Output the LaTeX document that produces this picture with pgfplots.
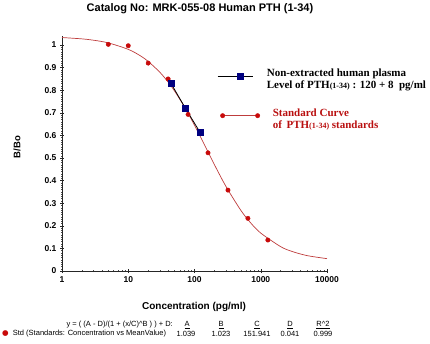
\documentclass[border=0pt]{standalone}
\usepackage{pgfplots}
\pgfplotsset{compat=1.18}
\usepackage{fontspec}
\setmainfont{Liberation Sans}
\newfontfamily\seriff{Liberation Serif}
\newfontfamily\dejavu{DejaVu Sans}
\definecolor{curvecol}{RGB}{190,60,60}
\definecolor{ptred}{RGB}{200,10,10}
\definecolor{navy}{RGB}{0,0,128}
\definecolor{legred}{RGB}{185,15,15}
\begin{document}
\begin{tikzpicture}[x=1pt,y=1pt]
\path[use as bounding box] (0,0) rectangle (430,343);
\begin{axis}[
  at={(62pt,72pt)}, anchor=south west,
  scale only axis, width=265pt, height=235pt,
  xmode=log, xmin=1, xmax=10000, ymin=0, ymax=1.04,
  axis lines*=left,
  axis line style={black!85, line width=0.6pt},
  xtick={1,10,100,1000,10000},
  xticklabels={1,10,100,1000,10000},
  ytick={0,0.1,0.2,0.3,0.4,0.5,0.6,0.7,0.8,0.9,1},
  yticklabels={0,0.1,0.2,0.3,0.4,0.5,0.6,0.7,0.8,0.9,1},
  minor y tick num=9,
  tick align=center,
  major tick length=4pt, minor tick length=2pt,
  tick style={black!85, line width=0.5pt},
  minor tick style={black!70, line width=0.4pt},
  tick label style={font=\bfseries\fontsize{8.5}{10}\selectfont},
  clip=false,
  reverse legend,
  legend cell align=left,
  legend style={draw=none, fill=none, at={(axis description cs:0.585,0.875)}, anchor=north west, row sep=19pt, inner sep=0pt,
     font=\seriff\bfseries\fontsize{11}{12.5}\selectfont},
]
\addplot[curvecol, line width=0.7pt, smooth, forget plot] coordinates {
(1,1.0332)(2,1.0273)(3,1.0213)(5,1.0095)(10,0.9809)(15,0.9536)(20,0.9276)(30,0.8795)(40,0.8360)(50,0.7966)(70,0.7281)(100,0.6452)(150,0.5433)(200,0.4703)(300,0.3731)(500,0.2687)(700,0.2139)(1000,0.1678)(2000,0.1077)(3000,0.0861)(5000,0.0682)(10000,0.0546)};
\addplot[only marks, mark=*, mark size=2.2pt, mark options={fill=ptred, draw=ptred},
  legend image code/.code={\draw[curvecol, line width=0.8pt] (5pt,0pt) -- (40pt,0pt); \draw[only marks, mark=*, mark size=2.2pt, mark options={fill=ptred, draw=ptred}] plot coordinates {(5pt,0pt) (40pt,0pt)};}]
  coordinates {(5,1.003)(10,0.997)(20,0.92)(40,0.85)(80,0.693)(160,0.523)(320,0.358)(640,0.233)(1280,0.137)};
\addlegendentry{\color{legred}\begin{tabular}{@{\hspace{11pt}}l@{}}Standard Curve\\of\, PTH{\fontsize{8}{9}\selectfont(1-34)} standards\end{tabular}}
\addplot[black, line width=0.8pt, mark=square*, mark size=3pt, mark options={fill=navy, draw=navy},
  legend image code/.code={\draw[black, line width=0.8pt] (0pt,0pt) -- (35pt,0pt); \draw[only marks, mark=square*, mark size=3pt, mark options={fill=navy, draw=navy}] plot coordinates {(23pt,0pt)};}]
  coordinates {(44.2,0.830)(72.6,0.721)(121,0.614)};
\addlegendentry{\begin{tabular}{@{\hspace{5pt}}l@{}}Non-extracted human plasma\\Level of PTH{\fontsize{8}{9}\selectfont(1-34)} : 120 + 8\ \ pg/ml\end{tabular}}
\end{axis}
% titles and labels
\node[font=\bfseries\fontsize{11}{13}\selectfont] at (200,334) {Catalog No: MRK-055-08 Human PTH (1-34)};
\node[font=\bfseries\fontsize{10}{12}\selectfont] at (194,36) {Concentration (pg/ml)};
\node[font=\bfseries\fontsize{9.5}{11}\selectfont, rotate=90] at (17,196) {B/Bo};
% fit summary
\begin{scope}[every node/.style={font=\fontsize{7.5}{9}\selectfont, inner sep=0pt}]
\node[anchor=east] at (173,18) {y = ( (A - D)/(1 + (x/C)\^{}B ) ) + D:};
\node at (187,18) {\underline{A}};
\node at (221,18) {\underline{B}};
\node at (257,18) {\underline{C}};
\node at (290,18) {\underline{D}};
\node at (323,18) {\underline{R\^{}2}};
\node[anchor=west] at (2,9) {{\dejavu\color{ptred}●}\ \ Std (Standards: Concentration vs MeanValue)};
\node at (186,9) {1.039};
\node at (221,9) {1.023};
\node at (257,9) {151.941};
\node at (290,9) {0.041};
\node at (323,9) {0.999};
\end{scope}
\end{tikzpicture}
\end{document}
